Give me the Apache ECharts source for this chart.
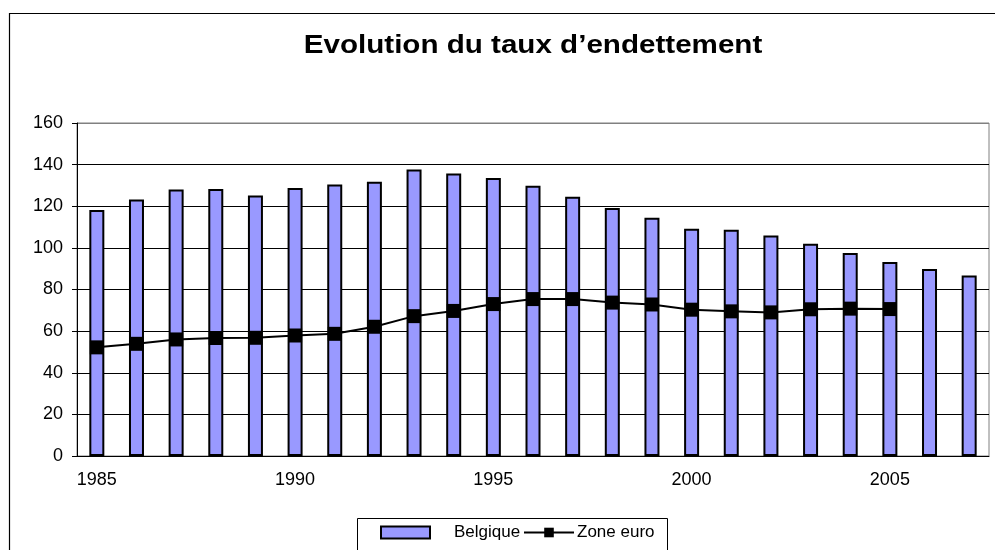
<!DOCTYPE html>
<html><head><meta charset="utf-8">
<script src="https://cdn.jsdelivr.net/npm/echarts@6/dist/echarts.min.js"></script>
<style>html,body{margin:0;padding:0;background:#fff}#c{width:995px;height:550px}</style>
</head><body><div id="c"></div>
<script>
const years = ['1985','1986','1987','1988','1989','1990','1991','1992','1993','1994','1995','1996','1997','1998','1999','2000','2001','2002','2003','2004','2005','2006','2007'];
const belgique = [118.2,123.2,128.0,128.3,125.2,128.8,130.4,131.8,137.6,135.7,133.6,129.9,124.6,119.2,114.5,109.2,108.7,106.0,102.0,97.5,93.2,89.8,86.7];
const zoneEuro = [52.2,53.9,56.0,56.7,56.8,57.9,58.7,62.1,67.2,69.7,73.0,75.4,75.4,73.7,72.8,70.3,69.5,69.0,70.5,70.8,70.6,null,null];
const yTicks = {min:0, max:160, interval:20};
const titleText = 'Evolution du taux d\u2019endettement';
const FONT = "'Liberation Sans', Arial, sans-serif";

const chart = echarts.init(document.getElementById('c'), null, {renderer:'canvas'});
chart.setOption({
  animation:false,
  backgroundColor:'#fff',
  textStyle:{fontFamily:FONT},
  graphic:[
    {type:'rect',shape:{x:9.5,y:13.5,width:1200,height:700},style:{fill:'none',stroke:'#000',lineWidth:1.2},silent:true,z:-1},
    {type:'rect',shape:{x:357.5,y:518.5,width:310,height:60},style:{fill:'#fff',stroke:'#000',lineWidth:1},silent:true,z:-1},
    {type:'text',x:533,y:45.5,scaleX:1.16,scaleY:1,silent:true,
      style:{text:titleText,fill:'#000',font:"bold 25.5px 'Liberation Sans', Arial, sans-serif",align:'center',verticalAlign:'middle'}}
  ],
  legend:[
    {data:[{name:'Belgique',icon:'rect'}],left:375,top:519,itemWidth:49,itemHeight:12,
      textStyle:{fontFamily:FONT,fontSize:17,color:'#000',padding:[4,0,0,19]}},
    {data:['Zone euro'],left:518,top:519,itemWidth:50,itemHeight:12,
      textStyle:{fontFamily:FONT,fontSize:17,color:'#000',padding:[0,0,0,-2]}}
  ],
  grid:{left:77,right:6,top:123,bottom:94,show:true,borderColor:'#808080',borderWidth:1,backgroundColor:'transparent'},
  xAxis:{type:'category',data:years,boundaryGap:true,
    axisLine:{lineStyle:{color:'#000',width:1}},
    axisTick:{interval:0,length:5,lineStyle:{color:'#000'}},
    axisLabel:{interval:4,color:'#000',fontSize:18,fontFamily:FONT,margin:15}},
  yAxis:{type:'value',min:yTicks.min,max:yTicks.max,interval:yTicks.interval,
    axisLine:{show:true,lineStyle:{color:'#000',width:1}},
    axisTick:{show:true,length:5,lineStyle:{color:'#000'}},
    axisLabel:{color:'#000',fontSize:18,fontFamily:FONT,margin:14},
    splitLine:{show:true,lineStyle:{color:['#000','#000','#000','#000','#000','#000','#000','#000','#808080'],width:1}}},
  series:[
    {name:'Belgique',type:'bar',data:belgique,barWidth:15,
      itemStyle:{color:'#9999FF',borderColor:'#000',borderWidth:2}},
    {name:'Zone euro',type:'line',data:zoneEuro,symbol:'rect',symbolSize:14,
      lineStyle:{color:'#000',width:2},itemStyle:{color:'#000'},z:5}
  ]
});
</script></body></html>
